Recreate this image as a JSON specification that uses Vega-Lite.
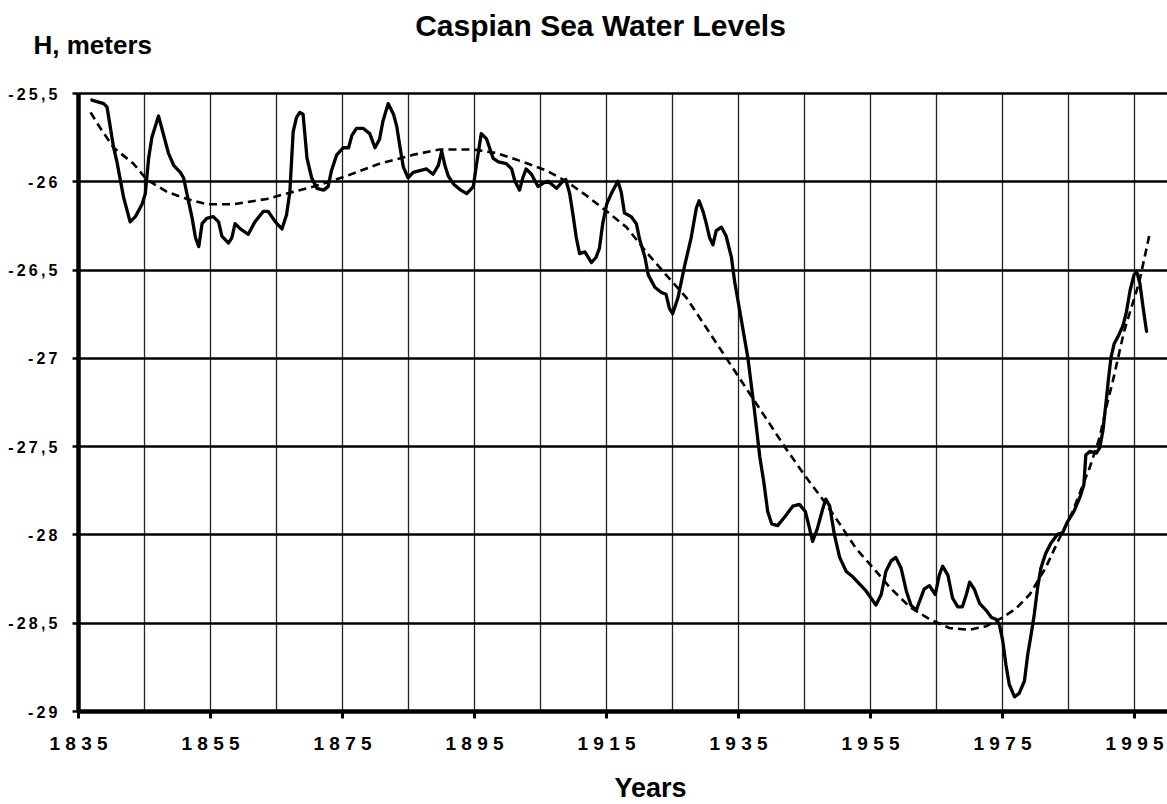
{
  "$schema": "https://vega.github.io/schema/vega-lite/v6.json",
  "width": 1089,
  "height": 618,
  "autosize": {"type": "none"},
  "padding": {"left": 78, "top": 93, "right": 0, "bottom": 93},
  "background": "white",
  "title": {"text": "Caspian Sea Water Levels", "font": "Liberation Sans", "fontSize": 30, "fontWeight": "bold", "color": "black", "anchor": "middle", "frame": "group", "dx": -22, "dy": 38, "baseline": "alphabetic"},
  "config": {"view": {"stroke": null}},
  "datasets": {
    "level": [
      {"year": 1837.1, "value": -25.54}, {"year": 1838.9, "value": -25.56}, {"year": 1839.4, "value": -25.58},
      {"year": 1840.4, "value": -25.81}, {"year": 1840.9, "value": -25.89}, {"year": 1841.9, "value": -26.09},
      {"year": 1842.9, "value": -26.23}, {"year": 1843.7, "value": -26.2}, {"year": 1844.7, "value": -26.13},
      {"year": 1845.2, "value": -26.07}, {"year": 1845.7, "value": -25.87}, {"year": 1846.2, "value": -25.75},
      {"year": 1847.2, "value": -25.63}, {"year": 1847.7, "value": -25.7}, {"year": 1848.7, "value": -25.84},
      {"year": 1849.5, "value": -25.91}, {"year": 1850.5, "value": -25.95}, {"year": 1851.0, "value": -25.98},
      {"year": 1851.5, "value": -26.07}, {"year": 1852.3, "value": -26.21}, {"year": 1852.8, "value": -26.32},
      {"year": 1853.3, "value": -26.37}, {"year": 1853.8, "value": -26.24}, {"year": 1854.5, "value": -26.21},
      {"year": 1855.5, "value": -26.2}, {"year": 1856.3, "value": -26.23}, {"year": 1856.8, "value": -26.31},
      {"year": 1857.8, "value": -26.35}, {"year": 1858.3, "value": -26.32}, {"year": 1858.8, "value": -26.24},
      {"year": 1859.6, "value": -26.27}, {"year": 1860.8, "value": -26.3}, {"year": 1861.8, "value": -26.23},
      {"year": 1863.1, "value": -26.17}, {"year": 1863.8, "value": -26.17}, {"year": 1864.9, "value": -26.23},
      {"year": 1865.9, "value": -26.27}, {"year": 1866.6, "value": -26.19}, {"year": 1867.1, "value": -26.06},
      {"year": 1867.6, "value": -25.72}, {"year": 1868.1, "value": -25.64}, {"year": 1868.6, "value": -25.61},
      {"year": 1869.1, "value": -25.62}, {"year": 1869.7, "value": -25.87}, {"year": 1870.4, "value": -25.98},
      {"year": 1871.2, "value": -26.04}, {"year": 1872.2, "value": -26.05}, {"year": 1872.9, "value": -26.03},
      {"year": 1873.4, "value": -25.94}, {"year": 1874.2, "value": -25.85}, {"year": 1875.2, "value": -25.81},
      {"year": 1876.0, "value": -25.81}, {"year": 1876.5, "value": -25.74}, {"year": 1877.2, "value": -25.7},
      {"year": 1878.2, "value": -25.7}, {"year": 1879.2, "value": -25.73}, {"year": 1880.0, "value": -25.81},
      {"year": 1880.7, "value": -25.76}, {"year": 1881.2, "value": -25.66}, {"year": 1882.0, "value": -25.56},
      {"year": 1882.8, "value": -25.62}, {"year": 1883.3, "value": -25.69}, {"year": 1883.8, "value": -25.81},
      {"year": 1884.3, "value": -25.92}, {"year": 1885.0, "value": -25.98}, {"year": 1885.8, "value": -25.95},
      {"year": 1886.8, "value": -25.94}, {"year": 1887.8, "value": -25.93}, {"year": 1888.8, "value": -25.96},
      {"year": 1889.6, "value": -25.91}, {"year": 1890.1, "value": -25.83}, {"year": 1890.6, "value": -25.91},
      {"year": 1891.1, "value": -25.97}, {"year": 1892.0, "value": -26.02}, {"year": 1893.0, "value": -26.05},
      {"year": 1893.9, "value": -26.07}, {"year": 1894.9, "value": -26.03}, {"year": 1895.4, "value": -25.9},
      {"year": 1896.1, "value": -25.73}, {"year": 1896.9, "value": -25.76}, {"year": 1897.9, "value": -25.87},
      {"year": 1898.7, "value": -25.89}, {"year": 1899.9, "value": -25.9}, {"year": 1900.7, "value": -25.93},
      {"year": 1901.2, "value": -26.0}, {"year": 1901.9, "value": -26.05}, {"year": 1902.4, "value": -25.98},
      {"year": 1902.9, "value": -25.93}, {"year": 1903.7, "value": -25.96}, {"year": 1904.7, "value": -26.03},
      {"year": 1905.5, "value": -26.01}, {"year": 1906.2, "value": -26.0}, {"year": 1907.5, "value": -26.04},
      {"year": 1908.2, "value": -26.01}, {"year": 1908.9, "value": -25.99}, {"year": 1909.5, "value": -26.07},
      {"year": 1910.0, "value": -26.19}, {"year": 1910.5, "value": -26.32}, {"year": 1911.0, "value": -26.41},
      {"year": 1911.8, "value": -26.4}, {"year": 1912.8, "value": -26.46}, {"year": 1913.5, "value": -26.43},
      {"year": 1914.0, "value": -26.38}, {"year": 1914.5, "value": -26.24}, {"year": 1915.1, "value": -26.13},
      {"year": 1915.8, "value": -26.07}, {"year": 1916.8, "value": -26.0}, {"year": 1917.3, "value": -26.06},
      {"year": 1917.8, "value": -26.18}, {"year": 1918.8, "value": -26.2}, {"year": 1919.6, "value": -26.24},
      {"year": 1920.1, "value": -26.33}, {"year": 1920.9, "value": -26.43}, {"year": 1921.4, "value": -26.53},
      {"year": 1922.4, "value": -26.6}, {"year": 1923.4, "value": -26.63}, {"year": 1924.1, "value": -26.64},
      {"year": 1924.6, "value": -26.72}, {"year": 1925.1, "value": -26.75}, {"year": 1925.9, "value": -26.66},
      {"year": 1926.9, "value": -26.48}, {"year": 1927.9, "value": -26.32}, {"year": 1928.7, "value": -26.15},
      {"year": 1929.1, "value": -26.11}, {"year": 1929.7, "value": -26.17}, {"year": 1930.2, "value": -26.24},
      {"year": 1930.7, "value": -26.32}, {"year": 1931.2, "value": -26.36}, {"year": 1931.7, "value": -26.28},
      {"year": 1932.5, "value": -26.26}, {"year": 1933.2, "value": -26.31}, {"year": 1934.0, "value": -26.43},
      {"year": 1934.5, "value": -26.57}, {"year": 1935.3, "value": -26.74}, {"year": 1935.8, "value": -26.85},
      {"year": 1936.5, "value": -27.0}, {"year": 1937.5, "value": -27.3}, {"year": 1938.3, "value": -27.56},
      {"year": 1938.9, "value": -27.7}, {"year": 1939.5, "value": -27.87}, {"year": 1940.1, "value": -27.94},
      {"year": 1941.0, "value": -27.95}, {"year": 1942.1, "value": -27.9}, {"year": 1943.3, "value": -27.84},
      {"year": 1944.3, "value": -27.83}, {"year": 1945.2, "value": -27.87}, {"year": 1945.8, "value": -27.96},
      {"year": 1946.3, "value": -28.04}, {"year": 1947.0, "value": -27.97}, {"year": 1947.8, "value": -27.86},
      {"year": 1948.3, "value": -27.8}, {"year": 1948.9, "value": -27.84}, {"year": 1949.6, "value": -28.0},
      {"year": 1950.4, "value": -28.13}, {"year": 1951.4, "value": -28.21}, {"year": 1952.4, "value": -28.24},
      {"year": 1953.4, "value": -28.28}, {"year": 1954.4, "value": -28.32}, {"year": 1955.9, "value": -28.4},
      {"year": 1956.7, "value": -28.34}, {"year": 1957.4, "value": -28.21}, {"year": 1958.2, "value": -28.15},
      {"year": 1958.9, "value": -28.13}, {"year": 1959.7, "value": -28.19}, {"year": 1960.5, "value": -28.32},
      {"year": 1961.2, "value": -28.4}, {"year": 1962.0, "value": -28.43}, {"year": 1962.5, "value": -28.38},
      {"year": 1963.2, "value": -28.31}, {"year": 1964.0, "value": -28.29}, {"year": 1964.9, "value": -28.34},
      {"year": 1965.5, "value": -28.23}, {"year": 1966.0, "value": -28.18}, {"year": 1966.8, "value": -28.23},
      {"year": 1967.5, "value": -28.36}, {"year": 1968.3, "value": -28.41}, {"year": 1969.0, "value": -28.41},
      {"year": 1969.6, "value": -28.34}, {"year": 1970.1, "value": -28.27}, {"year": 1970.8, "value": -28.31},
      {"year": 1971.6, "value": -28.39}, {"year": 1972.6, "value": -28.43}, {"year": 1973.4, "value": -28.47},
      {"year": 1974.1, "value": -28.48}, {"year": 1974.6, "value": -28.51}, {"year": 1975.1, "value": -28.6},
      {"year": 1975.6, "value": -28.74}, {"year": 1976.1, "value": -28.85}, {"year": 1976.9, "value": -28.92},
      {"year": 1977.6, "value": -28.9}, {"year": 1978.4, "value": -28.83}, {"year": 1978.9, "value": -28.68},
      {"year": 1979.4, "value": -28.57}, {"year": 1979.9, "value": -28.45}, {"year": 1980.4, "value": -28.3},
      {"year": 1980.9, "value": -28.19}, {"year": 1981.6, "value": -28.11}, {"year": 1982.4, "value": -28.05},
      {"year": 1983.4, "value": -28.0}, {"year": 1984.2, "value": -27.99}, {"year": 1984.9, "value": -27.93},
      {"year": 1985.9, "value": -27.87}, {"year": 1986.9, "value": -27.78}, {"year": 1987.4, "value": -27.72},
      {"year": 1987.7, "value": -27.55}, {"year": 1988.3, "value": -27.53}, {"year": 1989.3, "value": -27.54},
      {"year": 1989.8, "value": -27.51}, {"year": 1990.3, "value": -27.41}, {"year": 1990.8, "value": -27.24},
      {"year": 1991.1, "value": -27.13}, {"year": 1991.5, "value": -27.0}, {"year": 1992.0, "value": -26.92},
      {"year": 1992.7, "value": -26.87}, {"year": 1993.3, "value": -26.82}, {"year": 1993.8, "value": -26.75},
      {"year": 1994.4, "value": -26.62}, {"year": 1995.0, "value": -26.53}, {"year": 1995.4, "value": -26.51},
      {"year": 1995.9, "value": -26.58}, {"year": 1996.4, "value": -26.72}, {"year": 1996.9, "value": -26.85}
    ],
    "trend": [
      {"year": 1836.9, "value": -25.61}, {"year": 1838.4, "value": -25.7}, {"year": 1840.4, "value": -25.81},
      {"year": 1843.4, "value": -25.9}, {"year": 1845.4, "value": -25.99}, {"year": 1848.5, "value": -26.06},
      {"year": 1851.5, "value": -26.1}, {"year": 1854.5, "value": -26.13}, {"year": 1858.5, "value": -26.13},
      {"year": 1863.6, "value": -26.1}, {"year": 1867.6, "value": -26.06}, {"year": 1870.7, "value": -26.03},
      {"year": 1875.7, "value": -25.97}, {"year": 1880.7, "value": -25.9}, {"year": 1885.8, "value": -25.85},
      {"year": 1889.8, "value": -25.82}, {"year": 1894.9, "value": -25.82}, {"year": 1898.4, "value": -25.84},
      {"year": 1902.4, "value": -25.89}, {"year": 1906.0, "value": -25.94}, {"year": 1909.0, "value": -26.0},
      {"year": 1912.0, "value": -26.08}, {"year": 1915.1, "value": -26.17}, {"year": 1918.1, "value": -26.26},
      {"year": 1921.1, "value": -26.4}, {"year": 1924.1, "value": -26.53}, {"year": 1927.2, "value": -26.66},
      {"year": 1930.2, "value": -26.83}, {"year": 1933.2, "value": -27.0}, {"year": 1936.2, "value": -27.17},
      {"year": 1939.2, "value": -27.34}, {"year": 1942.2, "value": -27.51}, {"year": 1945.2, "value": -27.67},
      {"year": 1948.2, "value": -27.82}, {"year": 1950.4, "value": -27.94}, {"year": 1952.9, "value": -28.08},
      {"year": 1955.5, "value": -28.19}, {"year": 1958.0, "value": -28.3}, {"year": 1961.0, "value": -28.41},
      {"year": 1964.0, "value": -28.48}, {"year": 1967.0, "value": -28.53}, {"year": 1970.1, "value": -28.54},
      {"year": 1972.6, "value": -28.52}, {"year": 1975.1, "value": -28.47}, {"year": 1977.1, "value": -28.42},
      {"year": 1979.2, "value": -28.34}, {"year": 1981.6, "value": -28.19}, {"year": 1983.6, "value": -28.03},
      {"year": 1985.7, "value": -27.87}, {"year": 1988.3, "value": -27.62}, {"year": 1989.8, "value": -27.45},
      {"year": 1990.8, "value": -27.28}, {"year": 1991.8, "value": -27.13}, {"year": 1993.5, "value": -26.85},
      {"year": 1995.8, "value": -26.57}, {"year": 1997.3, "value": -26.31}
    ]
  },
  "encoding": {
    "x": {
      "field": "year", "type": "quantitative",
      "scale": {"domain": [1835, 2000], "nice": false, "zero": false},
      "axis": {
        "values": [1835, 1845, 1855, 1865, 1875, 1885, 1895, 1905, 1915, 1925, 1935, 1945, 1955, 1965, 1975, 1985, 1995],
        "labelExpr": "(datum.value - 1835) % 20 == 0 ? join(split('' + datum.value, ''), ' ') : ''",
        "labelFont": "Liberation Sans", "labelFontSize": 19, "labelFontWeight": "bold", "labelColor": "black",
        "labelPadding": 16, "labelFlush": false, "labelOverlap": false,
        "grid": true, "gridColor": "#222222", "gridWidth": 1.3,
        "domain": true, "domainColor": "black", "domainWidth": 4.5,
        "ticks": true, "tickColor": "black", "tickSize": 7, "tickWidth": 3,
        "tickOpacity": {"condition": {"test": "(datum.value - 1835) % 20 == 0", "value": 1}, "value": 0},
        "title": "Years", "titleFont": "Liberation Sans", "titleFontSize": 27, "titleFontWeight": "bold", "titleColor": "black",
        "titleX": 572, "titleY": 85, "titleAlign": "center", "titleBaseline": "alphabetic"
      }
    },
    "y": {
      "field": "value", "type": "quantitative",
      "scale": {"domain": [-29, -25.5], "nice": false, "zero": false},
      "axis": {
        "values": [-29, -28.5, -28, -27.5, -27, -26.5, -26, -25.5],
        "labelExpr": "join(split(replace('' + datum.value, '.', ','), ''), '\u2009')",
        "labelFont": "Liberation Sans", "labelFontSize": 16, "labelFontWeight": "bold", "labelColor": "black",
        "labelPadding": 15, "labelFlush": false, "labelOverlap": false, "labelOffset": 1,
        "grid": true, "gridColor": "black", "gridWidth": 2.5,
        "domain": true, "domainColor": "black", "domainWidth": 4.5,
        "ticks": true, "tickColor": "black", "tickSize": 6, "tickWidth": 2.5,
        "title": "H, meters", "titleFont": "Liberation Sans", "titleFontSize": 26, "titleFontWeight": "bold", "titleColor": "black",
        "titleAngle": 0, "titleX": -45, "titleY": -40, "titleAlign": "left", "titleBaseline": "alphabetic"
      }
    }
  },
  "layer": [
    {
      "data": {"name": "level"},
      "mark": {"type": "line", "color": "black", "strokeWidth": 3.3, "strokeJoin": "round", "strokeCap": "round"}
    },
    {
      "data": {"name": "trend"},
      "mark": {"type": "line", "color": "black", "strokeWidth": 2.6, "strokeDash": [8, 5]}
    }
  ]
}
